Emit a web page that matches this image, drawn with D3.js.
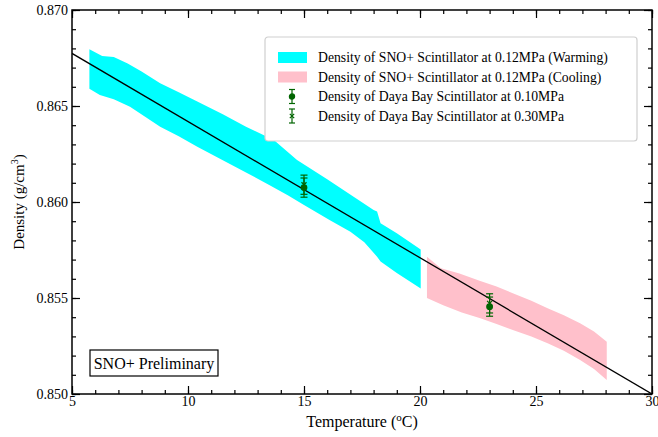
<!DOCTYPE html>
<html>
<head>
<meta charset="utf-8">
<script src="https://cdn.jsdelivr.net/npm/d3@7"></script>
<style>
  body { margin: 0; background: #fff; }
  svg { display: block; font-family: "Liberation Serif", "Times New Roman", serif; }
</style>
</head>
<body>
<svg id="chart" width="658" height="437"></svg>
<script>
// SNO+ band, warming run: [temperature, density] along upper and lower edge
const warmUpper = [
  [5.75, 0.86795], [6.3, 0.86760], [6.8, 0.86755], [7.4, 0.86722], [8.0, 0.86680],
  [8.8, 0.86618], [9.6, 0.86572], [10.4, 0.86524], [11.5, 0.86457], [12.5, 0.86392],
  [13.7, 0.86323], [14.7, 0.86219], [16.0, 0.86119], [16.7, 0.86063], [18.0, 0.85958],
  [18.15, 0.85950], [18.3, 0.85889], [19.0, 0.85837], [20.03, 0.85752],
];
const warmLower = [
  [5.75, 0.86590], [6.2, 0.86557], [6.8, 0.86535], [7.5, 0.86496], [8.2, 0.86440],
  [8.8, 0.86392], [9.6, 0.86342], [10.4, 0.86288], [11.5, 0.86218], [12.5, 0.86154],
  [13.5, 0.86089], [14.3, 0.86035], [15.0, 0.85985], [16.1, 0.85906], [17.0, 0.85845],
  [17.6, 0.85790], [18.15, 0.85715], [18.3, 0.85690], [19.0, 0.85630], [20.03, 0.85550],
];

// SNO+ band, cooling run
const coolUpper = [
  [20.3, 0.85715], [20.9, 0.85655], [21.7, 0.85628], [22.6, 0.85588], [23.3, 0.85560],
  [24.0, 0.85525], [24.8, 0.85486], [25.5, 0.85446], [26.2, 0.85410], [26.9, 0.85368],
  [27.5, 0.85325], [28.05, 0.85272],
];
const coolLower = [
  [20.3, 0.85500], [21.0, 0.85462], [21.8, 0.85425], [22.6, 0.85394], [23.3, 0.85365],
  [24.0, 0.85333], [24.8, 0.85300], [25.5, 0.85264], [26.2, 0.85225], [26.9, 0.85177],
  [27.5, 0.85130], [28.05, 0.85073],
];

// straight fit line
const fitT = [5, 30];
const fitDensity = [0.86774, 0.85000];

// Daya Bay points
const dayaT = [15, 23];
const daya010 = [0.86075, 0.85455];
const daya030 = [0.86090, 0.85472];
const dayaErr = [0.0005, 0.0005];

const xTickValues = [5, 10, 15, 20, 25, 30];
const yTickValues = [0.850, 0.855, 0.860, 0.865, 0.870];
const legendLabels = [
  'Density of SNO+ Scintillator at 0.12MPa (Warming)',
  'Density of SNO+ Scintillator at 0.12MPa (Cooling)',
  'Density of Daya Bay Scintillator at 0.10MPa',
  'Density of Daya Bay Scintillator at 0.30MPa',
];

const MARGIN = { TOP: 10, RIGHT: 6, BOTTOM: 43, LEFT: 72 };
const WIDTH = 658 - MARGIN.LEFT - MARGIN.RIGHT;
const HEIGHT = 437 - MARGIN.TOP - MARGIN.BOTTOM;
const CYAN = '#00ffff';
const PINK = '#ffc0cb';
const GREEN = '#006400';

const xScale = d3.scaleLinear().domain([5, 30]).range([0, WIDTH]);
const yScale = d3.scaleLinear().domain([0.850, 0.870]).range([HEIGHT, 0]);

const svg = d3.select('#chart');
const g = svg.append('g').attr('transform', `translate(${MARGIN.LEFT},${MARGIN.TOP})`);

const plot = g.append('g');
plot.append('clipPath').attr('id', 'clip')
  .append('rect').attr('width', WIDTH).attr('height', HEIGHT);
const inner = plot.append('g').attr('clip-path', 'url(#clip)');

// bands: upper edge forward, lower edge back
const edge = d3.line().x(d => xScale(d[0])).y(d => yScale(d[1]));
function band(upper, lower) {
  return edge(upper.concat(lower.slice().reverse())) + 'Z';
}
inner.append('path').attr('d', band(warmUpper, warmLower)).attr('fill', CYAN);
inner.append('path').attr('d', band(coolUpper, coolLower)).attr('fill', PINK);

inner.append('path')
  .attr('d', edge(fitT.map((t, i) => [t, fitDensity[i]])))
  .attr('fill', 'none')
  .attr('stroke', '#000')
  .attr('stroke-width', 1.3);

// error bars
function errorBar(sel, x, y, err, cap) {
  sel.append('line')
    .attr('x1', x).attr('x2', x)
    .attr('y1', yScale(y - err)).attr('y2', yScale(y + err));
  [y - err, y + err].forEach(v => {
    sel.append('line')
      .attr('x1', x - cap).attr('x2', x + cap)
      .attr('y1', yScale(v)).attr('y2', yScale(v));
  });
}
function cross(sel, x, y, r) {
  sel.append('path').attr('d', `M${x - r},${y - r}L${x + r},${y + r}M${x - r},${y + r}L${x + r},${y - r}`);
}

const pts = inner.append('g').attr('stroke', GREEN).attr('stroke-width', 1.2).attr('fill', GREEN);
dayaT.forEach((t, i) => {
  const x = xScale(t);
  errorBar(pts, x, daya030[i], dayaErr[i], 3.5);
  cross(pts, x, yScale(daya030[i]), 2.5);
  errorBar(pts, x, daya010[i], dayaErr[i], 3.5);
  pts.append('circle').attr('cx', x).attr('cy', yScale(daya010[i])).attr('r', 2.8);
});

// axes with inward ticks on all four sides
const minorX = d3.range(5, 30.01, 1);
const minorY = d3.range(0, 21).map(i => 0.850 + i * 0.001);

const frame = g.append('g').attr('class', 'frame');
frame.append('g').attr('transform', `translate(0,${HEIGHT})`)
  .call(d3.axisBottom(xScale).tickValues(minorX).tickSize(-4).tickFormat(''));
frame.append('g').attr('transform', `translate(0,${HEIGHT})`)
  .call(d3.axisBottom(xScale).tickValues(xTickValues).tickSize(-8).tickPadding(2).tickFormat(d3.format('d')));
frame.append('g')
  .call(d3.axisTop(xScale).tickValues(minorX).tickSize(-4).tickFormat(''));
frame.append('g')
  .call(d3.axisTop(xScale).tickValues(xTickValues).tickSize(-8).tickFormat(''));
frame.append('g')
  .call(d3.axisLeft(yScale).tickValues(minorY).tickSize(-4).tickFormat(''));
frame.append('g')
  .call(d3.axisLeft(yScale).tickValues(yTickValues).tickSize(-8).tickPadding(4).tickFormat(d3.format('.3f')));
frame.append('g').attr('transform', `translate(${WIDTH},0)`)
  .call(d3.axisRight(yScale).tickValues(minorY).tickSize(-4).tickFormat(''));
frame.append('g').attr('transform', `translate(${WIDTH},0)`)
  .call(d3.axisRight(yScale).tickValues(yTickValues).tickSize(-8).tickFormat(''));

frame.selectAll('.domain').remove();
frame.selectAll('.tick line').attr('stroke', '#000').attr('stroke-width', 1.2);
frame.selectAll('.tick text')
  .attr('fill', '#000')
  .style('font-family', '"Liberation Serif", serif')
  .style('font-size', '14px');
frame.append('rect')
  .attr('width', WIDTH).attr('height', HEIGHT)
  .attr('fill', 'none').attr('stroke', '#000').attr('stroke-width', 1.5);

// axis titles
const xTitle = g.append('text')
  .attr('x', WIDTH / 2).attr('y', HEIGHT + 33)
  .attr('text-anchor', 'middle')
  .style('font-size', '16px');
xTitle.append('tspan').text('Temperature (');
xTitle.append('tspan').attr('dy', -6).style('font-size', '11px').text('o');
xTitle.append('tspan').attr('dy', 6).text('C)');

const yTitle = g.append('text')
  .attr('transform', `translate(${-MARGIN.LEFT + 24},${HEIGHT / 2}) rotate(-90)`)
  .attr('text-anchor', 'middle')
  .style('font-size', '15px');
yTitle.append('tspan').text('Density (g/cm');
yTitle.append('tspan').attr('dy', -6).style('font-size', '10px').text('3');
yTitle.append('tspan').attr('dy', 6).text(')');

// legend
const legend = svg.append('g').attr('transform', 'translate(265,37)');
legend.append('rect')
  .attr('width', 372).attr('height', 104)
  .attr('rx', 3)
  .attr('fill', '#fff').attr('stroke', '#cfcfcf').attr('stroke-width', 1.2);
const rowY = [20.5, 40, 59.5, 79];
const legendFills = [CYAN, PINK];
legendLabels.forEach((label, i) => {
  const row = legend.append('g').attr('transform', `translate(0,${rowY[i]})`);
  if (i < 2) {
    row.append('rect').attr('x', 13).attr('y', -5.5).attr('width', 29).attr('height', 11)
      .attr('fill', legendFills[i]);
  } else {
    const m = row.append('g').attr('stroke', GREEN).attr('stroke-width', 1.2).attr('fill', GREEN);
    m.append('line').attr('x1', 27).attr('x2', 27).attr('y1', -7).attr('y2', 7);
    m.append('line').attr('x1', 24).attr('x2', 30).attr('y1', -7).attr('y2', -7);
    m.append('line').attr('x1', 24).attr('x2', 30).attr('y1', 7).attr('y2', 7);
    if (i === 2) m.append('circle').attr('cx', 27).attr('cy', 0).attr('r', 2.6);
    else cross(m, 27, 0, 2.2);
  }
  row.append('text').attr('x', 53).attr('y', 0).attr('dy', '0.35em')
    .style('font-size', '13.7px').text(label);
});

// preliminary tag
const tag = svg.append('g').attr('transform', 'translate(90,350)');
tag.append('rect').attr('width', 128).attr('height', 26)
  .attr('fill', '#fff').attr('stroke', '#000').attr('stroke-width', 1.2);
tag.append('text').attr('x', 64).attr('y', 13).attr('dy', '0.35em')
  .attr('text-anchor', 'middle').style('font-size', '16px').text('SNO+ Preliminary');
</script>
</body>
</html>
